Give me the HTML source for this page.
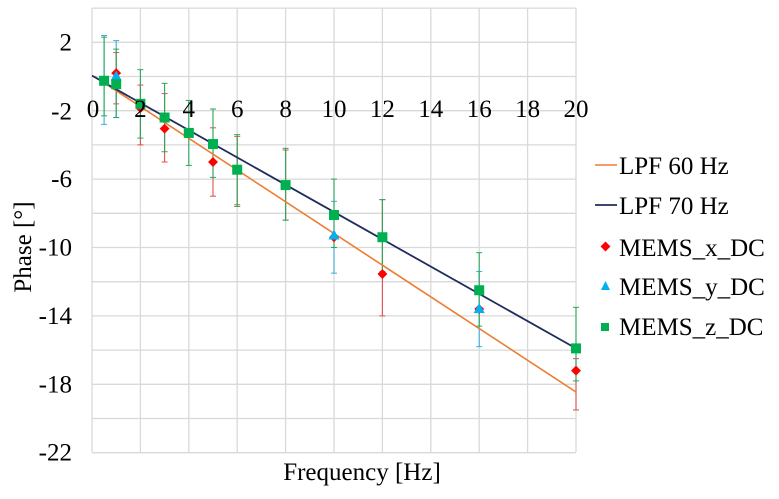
<!DOCTYPE html>
<html><head><meta charset="utf-8"><style>
html,body{margin:0;padding:0;background:#fff;}
svg{display:block;font-family:"Liberation Serif",serif;}
</style></head><body>
<svg id="s" width="779" height="499" viewBox="0 0 779 499">
<g stroke="#d9d9d9" stroke-width="1.3" id="grid"></g>
<g id="err"></g>
<line x1="92" y1="76.5" x2="576" y2="461" stroke="#ed7d31" stroke-width="1.6" id="l60"/>
<line id="l70" stroke="#1f2d5c" stroke-width="1.8"/>
<g id="mk"></g>
<g font-size="25" fill="#000" id="lab"></g>
<text x="362" y="480" font-size="25" text-anchor="middle">Frequency [Hz]</text>
<text transform="translate(31,247) rotate(-90)" font-size="25" text-anchor="middle">Phase [°]</text>
<g font-size="25">
<line x1="595" y1="165" x2="617" y2="165" stroke="#ed7d31" stroke-width="1.6"/>
<text x="619" y="174">LPF 60 Hz</text>
<line x1="595" y1="205" x2="617" y2="205" stroke="#1f2d5c" stroke-width="1.8"/>
<text x="619" y="214">LPF 70 Hz</text>
<rect x="602" y="243" width="7" height="7" fill="#f00" transform="rotate(45 605.5 246.5)"/>
<text x="619" y="256">MEMS_x_DC</text>
<polygon points="605.5,281 601,290 610,290" fill="#00b0f0"/>
<text x="619" y="295">MEMS_y_DC</text>
<rect x="601" y="323" width="8" height="8" fill="#00b050"/>
<text x="619" y="335">MEMS_z_DC</text>
</g>
</svg>
<script>
var NS="http://www.w3.org/2000/svg";
function X(f){return 92+24.2*f;}function Y(v){return 76.5-17.1*v;}
function el(p,t,a){var e=document.createElementNS(NS,t);for(var k in a)e.setAttribute(k,a[k]);document.getElementById(p).appendChild(e);return e;}
for(var f=0;f<=20;f+=2)el("grid","line",{x1:X(f),y1:8,x2:X(f),y2:452});
for(var v=4;v>=-22;v-=2)el("grid","line",{x1:92,y1:Y(v),x2:576,y2:Y(v)});
var l60=document.getElementById("l60");l60.setAttribute("x1",X(0.1));l60.setAttribute("y1",Y(0));l60.setAttribute("x2",X(20));l60.setAttribute("y2",Y(-18.45));
var l70=document.getElementById("l70");l70.setAttribute("x1",X(0));l70.setAttribute("y1",Y(0.05));l70.setAttribute("x2",X(20));l70.setAttribute("y2",Y(-15.9));
[2,4,6,8,10,12,14,16,18,20].forEach(function(f){var t=el("lab","text",{x:X(f),y:117,"text-anchor":"middle"});t.textContent=f;});
var t0=el("lab","text",{x:X(0)+1,y:117,"text-anchor":"middle"});t0.textContent="0";
[2,-2,-6,-10,-14,-18,-22].forEach(function(v){var y=v==-2?Y(-2)+1:Y(v);var t=el("lab","text",{x:72,y:y+8,"text-anchor":"end"});t.textContent=v;});
function eb(f,lo,hi,c){el("err","line",{x1:X(f),y1:Y(hi),x2:X(f),y2:Y(lo),stroke:c,"stroke-width":1.1});el("err","line",{x1:X(f)-3,y1:Y(hi),x2:X(f)+3,y2:Y(hi),stroke:c});el("err","line",{x1:X(f)-3,y1:Y(lo),x2:X(f)+3,y2:Y(lo),stroke:c});}
var R="#e05050",B="#3aaee0",G="#2aa85a";
eb(0.5,-2.8,2.4,B);eb(1,-2.4,2.1,B);eb(10,-11.5,-7.3,B);eb(16,-15.8,-11.4,B);
eb(2,-4,-0.5,R);eb(3,-5,-1,R);eb(5,-7,-3,R);eb(6,-7.5,-3.5,R);eb(8,-8.4,-4.3,R);eb(12,-14,-7.2,R);eb(20,-19.5,-16.5,R);eb(1,-1.6,1.4,R);
var Z=[[0.5,-0.25],[1,-0.45],[2,-1.6],[3,-2.4],[4,-3.3],[5,-3.95],[6,-5.45],[8,-6.35],[10,-8.1],[12,-9.4],[16,-12.5],[20,-15.9]];
var Zr=[[0.5,-2.3,2.3],[1,-2.4,1.6],[2,-3.6,0.4],[3,-4.4,-0.4],[4,-5.2,-1.4],[5,-5.9,-1.9],[6,-7.6,-3.4],[8,-8.4,-4.2],[10,-10,-6],[12,-11.4,-7.2],[16,-14.6,-10.3],[20,-17.8,-13.5]];
Zr.forEach(function(a){eb(a[0],a[1],a[2],G);});
[[1,0.2],[2,-1.85],[3,-3.05],[5,-5],[10,-9.4],[12,-11.55],[16,-13.6],[20,-17.2]].forEach(function(p){var x=X(p[0]),y=Y(p[1]);el("mk","rect",{x:x-3.5,y:y-3.5,width:7,height:7,fill:"#f00",transform:"rotate(45 "+x+" "+y+")"});});
[[1,0],[10,-9.3],[16,-13.6]].forEach(function(p){var x=X(p[0]),y=Y(p[1]);el("mk","polygon",{points:(x)+","+(y-6)+" "+(x-5.5)+","+(y+4)+" "+(x+5.5)+","+(y+4),fill:"#00b0f0"});});
Z.forEach(function(p){var x=X(p[0]),y=Y(p[1]);el("mk","rect",{x:x-5,y:y-5,width:10,height:10,fill:"#00b050"});});
</script>
</body></html>
